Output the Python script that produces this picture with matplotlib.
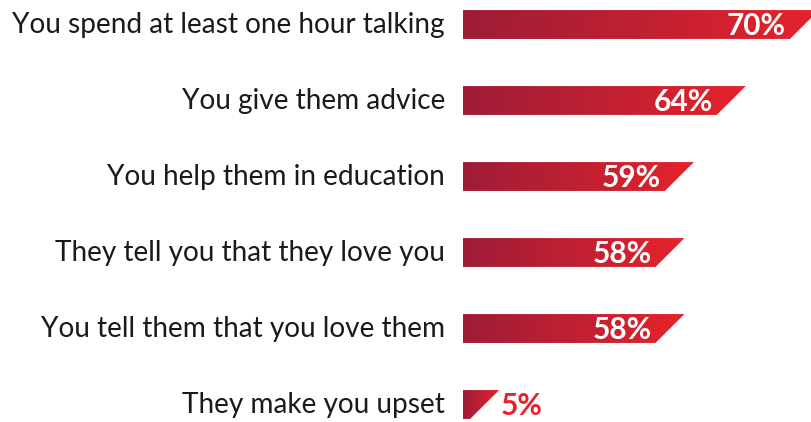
import matplotlib.pyplot as plt
import numpy as np
from matplotlib.colors import LinearSegmentedColormap
from matplotlib.patches import Polygon

labels = [
    "You spend at least one hour talking",
    "You give them advice",
    "You help them in education",
    "They tell you that they love you",
    "You tell them that you love them",
    "They make you upset",
]
values = [70, 64, 59, 58, 58, 5]

# the infographic stretches its bars non-linearly; bar length ~ base + k * v**p
POWER = 2.9
BASE = 7
SCALE = 320 / 70 ** POWER
SLANT = 29  # the slanted right end reaches this far past the lower edge
BAR_H = 0.38

grad = LinearSegmentedColormap.from_list("reds", ["#9e1c37", "#c02032", "#e6232b"])

fig = plt.figure(figsize=(8.11, 4.22), dpi=100)
ax = fig.add_axes([463 / 811, 0, 348 / 811, 1])
ax.axis("off")

for i, (lab, v) in enumerate(zip(labels, values)):
    length = BASE + SCALE * v ** POWER
    top, bot = i - BAR_H / 2, i + BAR_H / 2
    poly = Polygon([(0, top), (length + SLANT, top), (length, bot), (0, bot)],
                   closed=True, facecolor="none", edgecolor="none")
    ax.add_patch(poly)
    img = ax.imshow(np.linspace(0, 1, 256).reshape(1, -1), cmap=grad,
                    extent=(0, length + SLANT, bot, top), aspect="auto",
                    interpolation="bilinear")
    img.set_clip_path(poly)

    ax.text(-18, i, lab, ha="right", va="center", fontsize=20.2,
            family="Lato", color="#1a1a1a", clip_on=False)
    if v >= 20:
        ax.text(length - 4, i + 0.02, f"{v}%", ha="right", va="center",
                fontsize=21.5, fontweight="bold", family="Lato", color="white")
    else:
        ax.text(length + SLANT + 2, i + 0.02, f"{v}%", ha="left", va="center",
                fontsize=21.5, fontweight="bold", family="Lato", color="#e6232b")

ax.set_xlim(0, 348)
ax.set_ylim((422 - 24.5) / 76, -24.5 / 76)

plt.savefig("out.png")
plt.close()
